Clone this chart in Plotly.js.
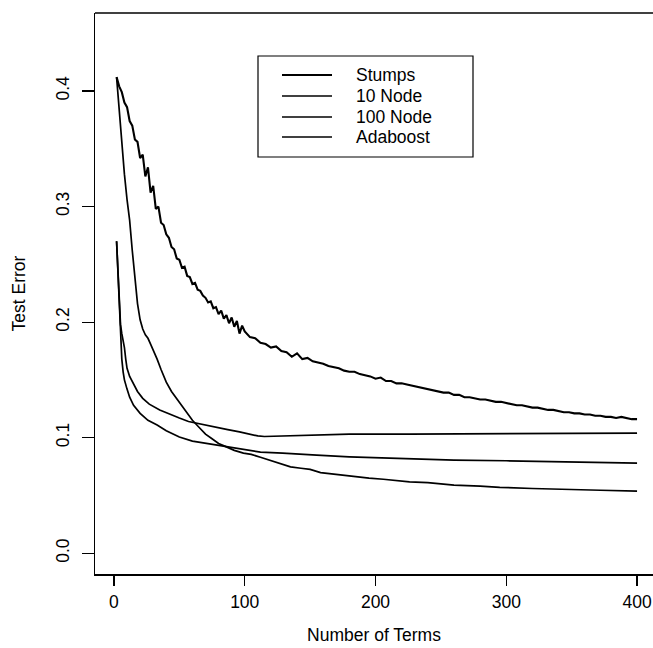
<!DOCTYPE html>
<html>
<head>
<meta charset="utf-8">
<script src="https://cdn.plot.ly/plotly-3.0.1.min.js"></script>
<style>html,body{margin:0;padding:0;background:#fff;overflow:hidden}#chart{width:653px;height:648px}</style>
</head>
<body>
<div id="chart"></div>
<script>
// Series names (legend order)
const seriesNames = ["Stumps", "10 Node", "100 Node", "Adaboost"];

// Stumps (noisy, slowly decreasing)
const stumpsX = [2,4,6,8,10,12,14,16,18,20,22,24,26,28,30,32,34,36,38,40,42,44,46,48,50,52,54,56,58,60,62,64,66,68,70,72,74,76,78,80,82,84,86,88,90,92,94,96,98,100,
  104,108,112,116,120,124,128,132,136,140,144,148,152,156,160,164,168,172,176,180,184,188,192,196,200,204,208,212,216,220,224,228,232,236,240,244,248,252,256,260,264,268,272,276,280,284,288,292,296,300,304,308,312,316,320,324,328,332,336,340,344,348,352,356,360,364,368,372,376,380,384,388,392,396,400];
const stumpsY = [0.412,0.404,0.399,0.390,0.386,0.374,0.370,0.358,0.356,0.342,0.345,0.326,0.334,0.312,0.318,0.298,0.300,0.286,0.284,0.276,0.273,0.265,0.263,0.255,0.254,0.247,0.248,0.240,0.239,0.233,0.234,0.228,0.227,0.223,0.221,0.217,0.218,0.212,0.213,0.207,0.210,0.203,0.206,0.199,0.204,0.196,0.201,0.190,0.197,0.192,
  0.187,0.186,0.182,0.181,0.178,0.179,0.175,0.174,0.170,0.173,0.168,0.169,0.166,0.165,0.164,0.162,0.161,0.160,0.158,0.157,0.157,0.155,0.154,0.153,0.151,0.152,0.149,0.149,0.147,0.147,0.146,0.145,0.144,0.143,0.142,0.141,0.140,0.139,0.139,0.137,0.137,0.135,0.135,0.134,0.133,0.133,0.132,0.131,0.131,0.130,0.129,0.128,0.128,0.127,0.126,0.126,0.125,0.124,0.124,0.123,0.122,0.122,0.121,0.121,0.120,0.120,0.119,0.119,0.118,0.118,0.117,0.118,0.117,0.116,0.116];

// 10 Node (fast drop, lowest at the end)
const node10X = [2,4,6,8,10,12,14,16,18,20,22,24,26,28,30,33,36,40,44,48,52,56,60,65,70,75,80,86,92,99,105,112,119,127,135,143,150,158,170,181,195,206,218,226,240,260,280,295,320,345,372,400];
const node10Y = [0.412,0.385,0.352,0.328,0.306,0.288,0.262,0.236,0.216,0.202,0.194,0.189,0.186,0.181,0.176,0.168,0.159,0.148,0.140,0.134,0.128,0.121,0.115,0.109,0.103,0.099,0.095,0.092,0.089,0.0866,0.0855,0.083,0.0805,0.077,0.0747,0.0735,0.0725,0.0697,0.068,0.0667,0.065,0.064,0.0625,0.0617,0.061,0.059,0.058,0.057,0.056,0.0555,0.0545,0.0537];

// 100 Node
const node100X = [2,3,4,5,6,7,8,10,12,15,20,26,33,40,50,60,71,81,91,104,112,129,142,155,180,226,260,300,350,400];
const node100Y = [0.270,0.243,0.216,0.190,0.168,0.157,0.150,0.142,0.135,0.128,0.121,0.115,0.111,0.106,0.1006,0.097,0.095,0.093,0.0918,0.089,0.0875,0.0866,0.0855,0.0848,0.0834,0.0814,0.0805,0.080,0.079,0.078];

// Adaboost
const adaX = [2,3,4,5,6,7,8,9,10,12,15,18,22,27,35,43,50,57,63,70,78,87,96,104,110,115,122,129,142,155,180,226,260,300,350,400];
const adaY = [0.270,0.243,0.216,0.198,0.190,0.184,0.178,0.168,0.160,0.153,0.147,0.140,0.134,0.129,0.124,0.120,0.117,0.114,0.1125,0.111,0.109,0.107,0.105,0.103,0.1015,0.101,0.1012,0.1014,0.1016,0.102,0.103,0.103,0.1032,0.1035,0.104,0.104];

// Axis ticks
const xTicks = [0,100,200,300,400];
const yTicks = [0.0,0.1,0.2,0.3,0.4];
const yTickText = ["0.0","0.1","0.2","0.3","0.4"];

const FONT = "Liberation Sans, Arial, Helvetica, sans-serif";
const ink = "#000";
const widths = [2.1, 1.7, 1.7, 1.7];

const allX = [stumpsX, node10X, node100X, adaX];
const allY = [stumpsY, node10Y, node100Y, adaY];
const traces = seriesNames.map((n, i) => ({
  x: allX[i], y: allY[i], name: n, mode: "lines",
  line: {color: ink, width: widths[i]}, showlegend: false
}));

// Plot area in pixels: left 95, right 653, top 13, bottom 574
const PL = 95, PW = 558, PT = 13, PH = 561;
const px = v => (v - PL) / PW;
const py = v => (PT + PH - v) / PH;

// Legend (drawn as a boxed key)
const legendRowY = [75, 96, 117, 137];
const shapes = [
  {type: "line", xref: "paper", yref: "paper", x0: 0, x1: 1.05, y0: 1, y1: 1, line: {color: ink, width: 1.5}},
  {type: "rect", xref: "paper", yref: "paper", x0: px(258), x1: px(473), y0: py(157), y1: py(56), line: {color: ink, width: 1.2}}
];
const annotations = [];
seriesNames.forEach((n, i) => {
  shapes.push({type: "line", xref: "paper", yref: "paper", x0: px(282), x1: px(332),
    y0: py(legendRowY[i]), y1: py(legendRowY[i]), line: {color: ink, width: widths[i]}});
  annotations.push({text: n, xref: "paper", yref: "paper", x: px(354), y: py(legendRowY[i]),
    xanchor: "left", yanchor: "middle", showarrow: false,
    font: {family: FONT, size: 17.5, color: ink}});
});

const layout = {
  width: 653, height: 648,
  margin: {l: PL, r: 0, t: PT, b: 648 - PT - PH, pad: 0},
  paper_bgcolor: "#fff", plot_bgcolor: "#fff",
  font: {family: FONT, color: ink, size: 17},
  showlegend: false,
  xaxis: {
    range: [-14.5, 412.2], tickvals: xTicks, ticktext: xTicks.map(String),
    showgrid: false, zeroline: false, showline: true, linecolor: ink, linewidth: 1.5,
    ticks: "outside", ticklen: 10, tickwidth: 1.2, tickcolor: ink,
    ticklabelstandoff: 1,
    tickfont: {family: FONT, size: 17.5, color: ink},
    title: {text: "Number of Terms", font: {family: FONT, size: 17.5, color: ink}, standoff: 18}
  },
  yaxis: {
    range: [-0.018, 0.4675], tickvals: yTicks, ticktext: yTickText,
    showgrid: false, zeroline: false, showline: true, linecolor: ink, linewidth: 1.5,
    ticks: "outside", ticklen: 12, tickwidth: 1.2, tickcolor: ink,
    tickangle: -90, ticklabelstandoff: 6,
    tickfont: {family: FONT, size: 17.5, color: ink},
    title: {text: "Test Error", font: {family: FONT, size: 17.5, color: ink}, standoff: 22}
  },
  shapes: shapes,
  annotations: annotations
};

Plotly.newPlot("chart", traces, layout, {displayModeBar: false, staticPlot: true});
</script>
</body>
</html>
